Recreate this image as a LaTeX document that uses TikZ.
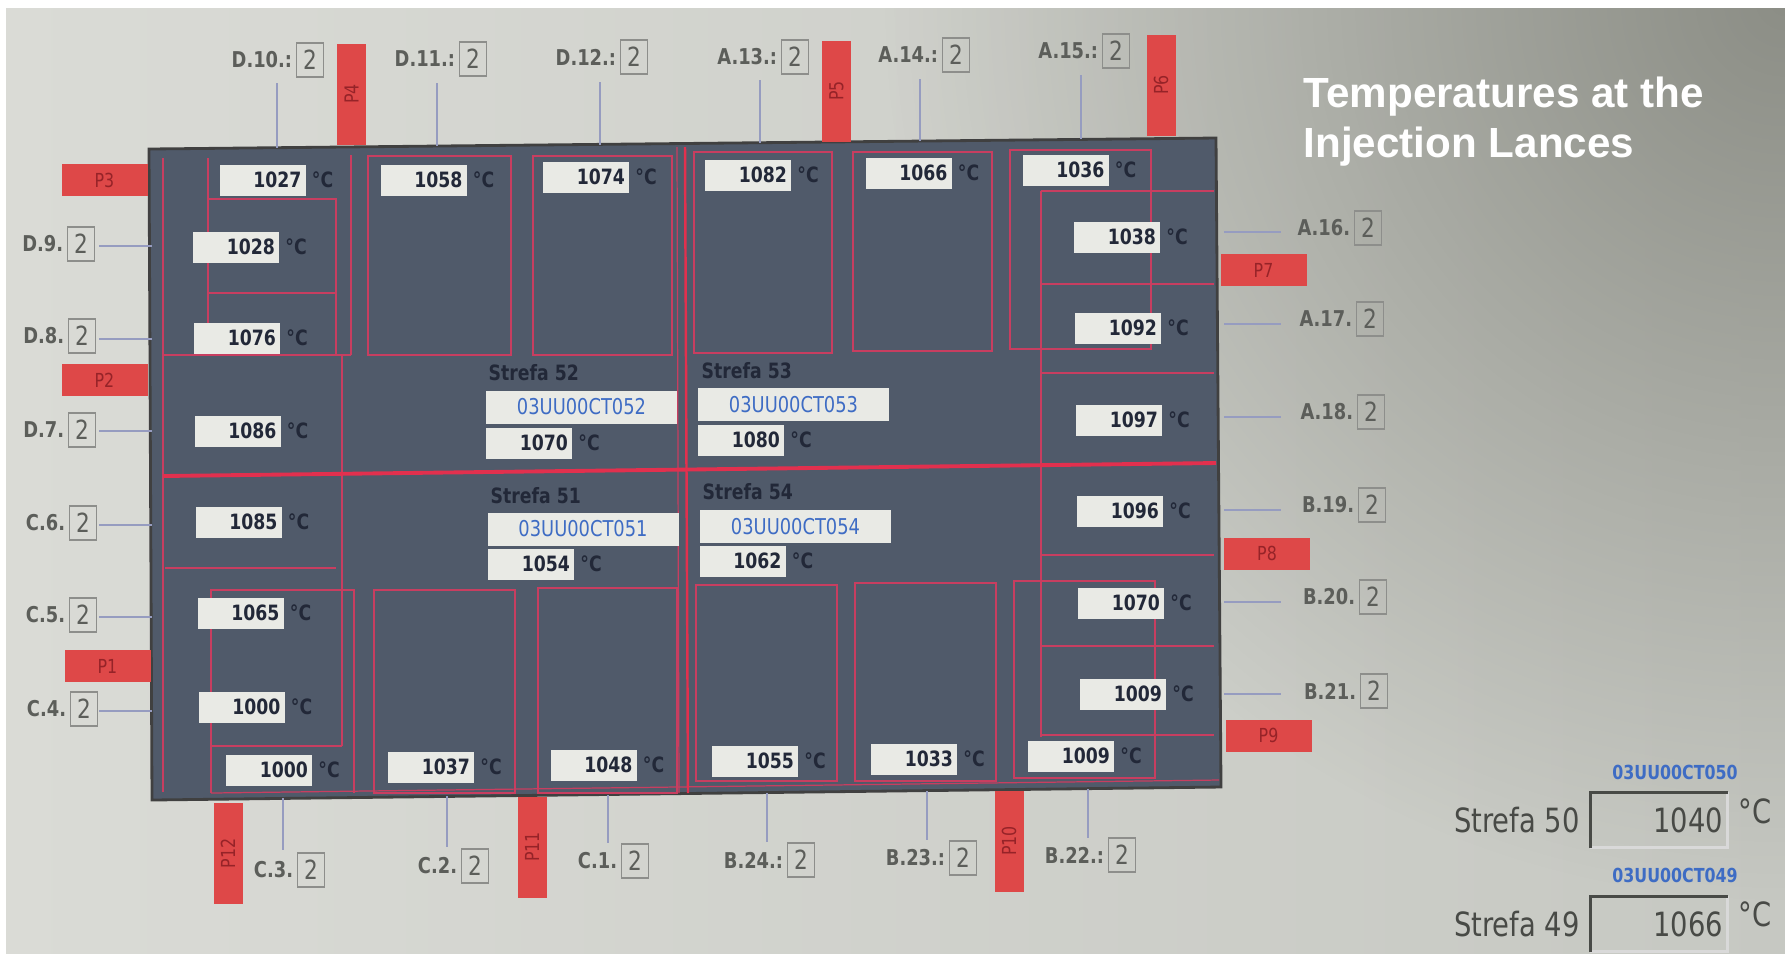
\documentclass[tikz,border=0pt]{standalone}
\usepackage{fontspec}
\usetikzlibrary{positioning,fadings}
\newfontfamily\hmi{DejaVu Sans}[FakeStretch=0.82]
\newfontfamily\ttl{Liberation Sans}
\definecolor{scr}{RGB}{218,219,214}
\definecolor{scrR}{RGB}{198,200,194}
\definecolor{scrD}{RGB}{140,142,134}
\definecolor{slate}{RGB}{80,90,106}
\definecolor{rline}{RGB}{200,62,96}
\definecolor{rmain}{RGB}{226,48,78}
\definecolor{pRed}{RGB}{222,72,72}
\definecolor{pTxt}{RGB}{150,35,40}
\definecolor{boxF}{RGB}{233,234,229}
\definecolor{navy}{RGB}{34,40,56}
\definecolor{tagG}{RGB}{92,94,90}
\definecolor{lanceC}{RGB}{150,156,192}
\definecolor{idBlue}{RGB}{62,108,196}
\definecolor{darkG}{RGB}{72,74,70}

\tikzfading[name=glare, inner color=transparent!0, outer color=transparent!100]

\tikzset{
  valbox/.style={fill=boxF, text=navy, font=\hmi\bfseries\fontsize{6}{7}\selectfont,
    text width=7.8mm, align=right, inner xsep=0.4mm, inner ysep=0pt, minimum height=3.1mm},
  degc/.style={text=navy, font=\hmi\bfseries\fontsize{6}{7}\selectfont, inner sep=0pt},
  idbox/.style={fill=boxF, text=idBlue, font=\hmi\fontsize{6.2}{7}\selectfont,
    minimum width=19.1mm, minimum height=3.3mm, inner sep=0pt},
  zone/.style={text=navy, font=\hmi\bfseries\fontsize{6}{7}\selectfont, anchor=west, inner sep=0pt},
  pbox/.style={fill=pRed, text=pTxt, font=\hmi\fontsize{5.5}{6}\selectfont, inner sep=0pt},
  phor/.style={pbox, minimum width=8.6mm, minimum height=3.2mm},
  pver/.style={pbox, rotate=90, minimum width=10.1mm, minimum height=2.9mm},
  tagbox/.style={draw=tagG!70, text=tagG, font=\hmi\fontsize{7.5}{8}\selectfont,
    minimum width=2.7mm, minimum height=3.4mm, inner sep=0pt},
  tagtxt/.style={text=tagG, font=\hmi\bfseries\fontsize{6.2}{7}\selectfont, inner sep=0.3mm},
  lance/.style={lanceC, line width=0.6pt},
  part/.style={rline, line width=0.35pt},
  big/.style={text=darkG, font=\hmi\fontsize{9.5}{10}\selectfont, inner sep=0pt},
  sunk/.style={minimum width=13.6mm, minimum height=5.4mm, text width=12.8mm, align=right,
    inner xsep=0.4mm, text=darkG, font=\hmi\fontsize{9.5}{10}\selectfont},
  tagid/.style={text=idBlue, font=\hmi\bfseries\fontsize{5.5}{6}\selectfont, inner sep=0pt},
  ttlst/.style={text=white, font=\ttl\bfseries\fontsize{12}{14}\selectfont, anchor=base west, inner sep=0pt}
}

\begin{document}
\begin{tikzpicture}[x=0.1mm, y=-0.1mm]
  \useasboundingbox (0,0) rectangle (1785,959);
  % screen photo background
  \fill[white] (0,0) rectangle (1785,959);
  \begin{scope}
    \clip (6,8) rectangle (1785,953);
    \shade[left color=scr, right color=scrR] (6,8) rectangle (1785,953);
    \fill[scrD, path fading=glare] (1785,0) circle (900);
  \end{scope}

  % title
  \node[ttlst] (ttl1) at (1303,107) {Temperatures at the};
  \node[ttlst] (ttl2) at (1303,157) {Injection Lances};

  % furnace panel
  \fill[slate] (149,149) -- (1216,138) -- (1221,787) -- (152,800) -- cycle;
  \draw[black!75, line width=0.8pt] (149,149) -- (1216,138) -- (1221,787) -- (152,800) -- cycle;

  % red partitions, left block
  \draw[part] (163,158) -- (163,792);
  \draw[part] (208,158) -- (208,355);
  \draw[part] (208,199) -| (336,355);
  \draw[part] (208,293) -- (336,293);
  \draw[part] (163,355) -- (351,355);
  \draw[part] (351,155) -- (351,355);
  \draw[part] (342,355) -- (342,746);
  \draw[part] (165,568) -- (336,568);
  \draw[part] (211,793) |- (354,590) -- (354,793);
  \draw[part] (211,746) -- (342,746);
  % upper and lower rooms
  \foreach \a/\b/\c/\d in {368/156/511/355, 533/156/672/355, 694/152/832/353, 853/152/992/351,
      1010/150/1151/349, 374/590/515/793, 538/588/677/793, 696/585/837/781, 855/583/996/781,
      1014/581/1155/778}
    \draw[part] (\a,\b) rectangle (\c,\d);
  % right block
  \draw[part] (1041,191) -- (1041,737);
  \foreach \y in {191,284,373,555,646,735}
    \draw[part] (1041,\y) -- (1214,\y);
  % centre cross
  \draw[part] (677,147) -- (679,793);
  \draw[part] (211,793) -- (1219,780);
  \draw[rmain, line width=0.7pt] (685,147) -- (688,793);
  \draw[rmain, line width=1.1pt] (163,476) -- (1216,463);

  % temperatures
  \foreach \val/\x/\y [count=\k] in {1027/262.5/180, 1058/423.5/180, 1074/586/177, 1082/748/175,
      1066/908.5/173, 1036/1065.5/170,
      1028/236/247, 1076/237/338, 1086/237.5/431, 1085/238.5/522, 1065/240.5/613, 1000/241.5/707,
      1000/269/770, 1037/431/767, 1048/593.5/765, 1055/755/761, 1033/914/759, 1009/1071/756,
      1038/1117/237, 1092/1118/328, 1097/1119/420, 1096/1120/511, 1070/1121/603, 1009/1123/694,
      1070/529/443, 1054/531/564, 1080/741/440, 1062/742.5/561} {
    \node[valbox] (val\k) at (\x,\y) {\val};
    \node[degc, right=0.5mm of val\k] (deg\k) {°C};
  }

  % zones 51-54
  \node[zone] (z52) at (488,373) {Strefa 52};
  \node[idbox] (id52) at (581.5,407) {03UU00CT052};
  \node[zone] (z51) at (490,496) {Strefa 51};
  \node[idbox] (id51) at (583,529) {03UU00CT051};
  \node[zone] (z53) at (701,371) {Strefa 53};
  \node[idbox] (id53) at (793.5,404.5) {03UU00CT053};
  \node[zone] (z54) at (702,492) {Strefa 54};
  \node[idbox] (id54) at (795.5,526.5) {03UU00CT054};

  % P markers
  \foreach \p/\x/\y in {P3/104.5/180, P2/104.5/380, P1/107.5/666, P7/1263.5/270, P8/1267/553.5, P9/1268.5/735.5}
    \node[phor] (\p) at (\x,\y) {\p};
  \foreach \p/\x/\y in {P4/351.5/94, P5/836.5/91, P6/1161/85, P12/228/853.5, P11/532/847, P10/1009/841}
    \node[pver] (\p) at (\x,\y) {\p};

  % lances, top
  \foreach \lab/\bx/\by/\lx/\ly/\ey [count=\k] in {D.10.:/310/60/277/83/148, D.11.:/473/59/437/83/146,
      D.12.:/634/57/600/82/145, A.13.:/795/57/760/80/143, A.14.:/956/55/920/79/141, A.15.:/1116/51/1081/75/139} {
    \node[tagbox] (tt\k) at (\bx,\by) {2};
    \node[tagtxt, left=0pt of tt\k] (ttx\k) {\lab};
    \coordinate (tta\k) at (\lx,\ly);
    \coordinate (ttb\k) at (\lx,\ey);
    \draw[lance] (tta\k) -- (ttb\k);
  }
  % lances, left
  \foreach \lab/\bx/\by/\ly [count=\k] in {D.9./81/244/246, D.8./82/336/339, D.7./82/430/431,
      C.6./83/523/525, C.5./83/615/617, C.4./84/709/711} {
    \node[tagbox] (lt\k) at (\bx,\by) {2};
    \node[tagtxt, left=0pt of lt\k] (ltx\k) {\lab};
    \coordinate (lta\k) at (99,\ly);
    \coordinate (ltb\k) at (152,\ly);
    \draw[lance] (lta\k) -- (ltb\k);
  }
  % lances, right
  \foreach \lab/\bx/\by/\ly [count=\k] in {A.16./1368/228/232, A.17./1370/319/324, A.18./1371/412/417,
      B.19./1372/505/510, B.20./1373/597/602, B.21./1374/691/694} {
    \node[tagbox] (rt\k) at (\bx,\by) {2};
    \node[tagtxt, left=0pt of rt\k] (rtx\k) {\lab};
    \coordinate (rta\k) at (1224,\ly);
    \coordinate (rtb\k) at (1281,\ly);
    \draw[lance] (rta\k) -- (rtb\k);
  }
  % lances, bottom
  \foreach \lab/\bx/\by/\lx/\ly/\ey [count=\k] in {C.3./311/870/283/798/850, C.2./475/866/447/796/847,
      C.1./635/861/608/795/843, B.24.:/801/860/767/793/842, B.23.:/963/858/927/791/840, B.22.:/1122/855/1088/789/838} {
    \node[tagbox] (bt\k) at (\bx,\by) {2};
    \node[tagtxt, left=0pt of bt\k] (btx\k) {\lab};
    \coordinate (bta\k) at (\lx,\ly);
    \coordinate (btb\k) at (\lx,\ey);
    \draw[lance] (bta\k) -- (btb\k);
  }

  % zones 50 and 49
  \node[tagid] (id50) at (1675,772) {03UU00CT050};
  \node[sunk] (b50) at (1659,820) {1040};
  \node[big, left=1mm of b50] (s50) {Strefa 50};
  \node[big] (d50) at (1755,811) {°C};
  \node[tagid] (id49) at (1675,875) {03UU00CT049};
  \node[sunk] (b49) at (1659,924) {1066};
  \node[big, left=1mm of b49] (s49) {Strefa 49};
  \node[big] (d49) at (1755,914) {°C};
  \foreach \b in {b50,b49} {
    \draw[white!85!black, line width=0.8pt] (\b.south west) -| (\b.north east);
    \draw[darkG, line width=0.9pt] (\b.south west) |- (\b.north east);
  }
\end{tikzpicture}
\end{document}
